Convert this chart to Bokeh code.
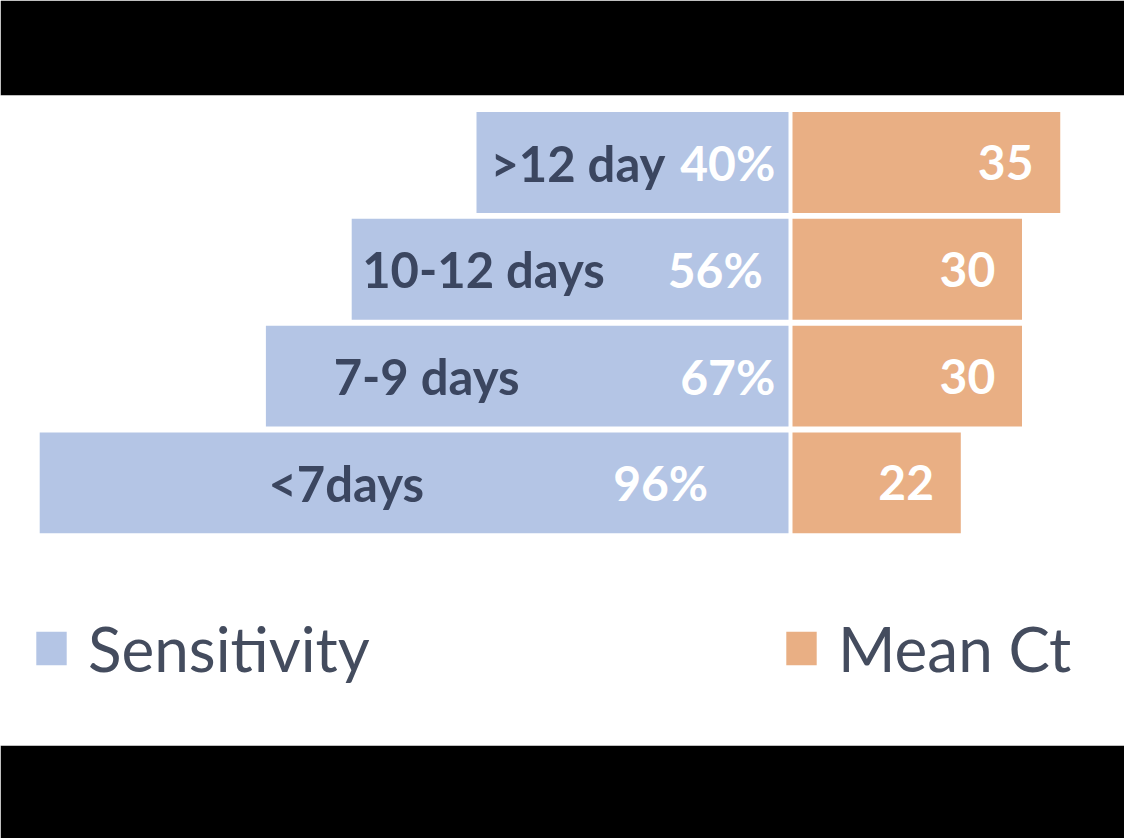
from bokeh.plotting import figure
from bokeh.models import Range1d, ColumnDataSource, Legend, LegendItem
from bokeh.core.properties import value
from bokeh.embed import file_html
from bokeh.resources import INLINE

# ---- data ----
categories = [">12 day", "10-12 days", "7-9 days", "<7days"]
sensitivity = [40, 56, 67, 96]
mean_ct = [35, 30, 30, 22]
pct_labels = ["40%", "56%", "67%", "96%"]

# ---- layout (style, not data) ----
cat_label_x = [-27.0, -39.1, -46.4, -56.7]   # centre of category labels (sensitivity units)
pct_label_x = [-1.7, -3.3, -1.7, -10.3]       # right edge of percent labels
ct_label_pad = 3.5                            # ct units from the bar end

BLUE = "#b4c5e5"
ORANGE = "#e9af84"
DARK = "#3b4660"

W, H = 1124, 838
TOP, BOTTOM = 95, 93
px_per_sens = 7.8
px_per_ct = 7.65
zero_sens_px = 788
zero_ct_px = 792
row_px = 106.8
row0_px = 162

frame_h = H - TOP - BOTTOM
y_top = -(row0_px - TOP) / row_px
y_bot = y_top + frame_h / row_px

p = figure(width=W, height=H, output_backend="svg", toolbar_location=None,
           x_range=Range1d(-zero_sens_px / px_per_sens, (W - zero_sens_px) / px_per_sens),
           y_range=Range1d(y_bot, y_top),
           min_border_left=0, min_border_right=0,
           min_border_top=TOP, min_border_bottom=BOTTOM)
p.extra_x_ranges = {"ct": Range1d(-zero_ct_px / px_per_ct, (W - zero_ct_px) / px_per_ct)}
p.xaxis.visible = False
p.yaxis.visible = False
p.grid.visible = False
p.outline_line_color = None
p.border_fill_color = "black"
p.background_fill_color = "white"

ys = list(range(len(categories)))
src = ColumnDataSource(dict(
    y=ys,
    cat=categories,
    sens_left=[-v for v in sensitivity],
    sens_right=[0] * len(sensitivity),
    ct_left=[0] * len(mean_ct),
    ct_right=mean_ct,
    pct=pct_labels,
    ct_txt=[str(v) for v in mean_ct],
    ct_lab_x=[v - ct_label_pad for v in mean_ct],
    cat_x=cat_label_x,
    pct_x=pct_label_x,
))

r_sens = p.hbar(y="y", left="sens_left", right="sens_right", height=0.945,
                fill_color=BLUE, line_color=None, source=src)
r_ct = p.hbar(y="y", left="ct_left", right="ct_right", height=0.945,
              fill_color=ORANGE, line_color=None, source=src, x_range_name="ct")

FONT = value("Lato")
p.text(x="cat_x", y="y", text="cat", source=src, text_font=FONT,
       text_font_style="bold", text_font_size="49px", text_color=DARK,
       text_align="center", text_baseline="middle")
p.text(x="pct_x", y="y", text="pct", source=src, text_font=FONT,
       text_font_style="bold", text_font_size="48px", text_color="white",
       text_align="right", text_baseline="middle")
p.text(x="ct_lab_x", y="y", text="ct_txt", source=src, text_font=FONT,
       text_font_style="bold", text_font_size="48px", text_color="white",
       text_align="right", text_baseline="middle", x_range_name="ct")

def make_legend(label, renderer, loc):
    lg = Legend(items=[LegendItem(label=label, renderers=[renderer])],
                location=loc, orientation="horizontal",
                glyph_width=38, glyph_height=42, label_standoff=18,
                label_text_font="Lato", label_text_font_size="62px",
                label_text_color="#444c5e", padding=0, margin=0, spacing=0,
                border_line_alpha=0, background_fill_alpha=0)
    return lg

p.add_layout(make_legend("Sensitivity", r_sens, (32, 60)))
p.add_layout(make_legend("Mean Ct", r_ct, (782, 60)))

open("out.html", "w").write(file_html(p, INLINE))
